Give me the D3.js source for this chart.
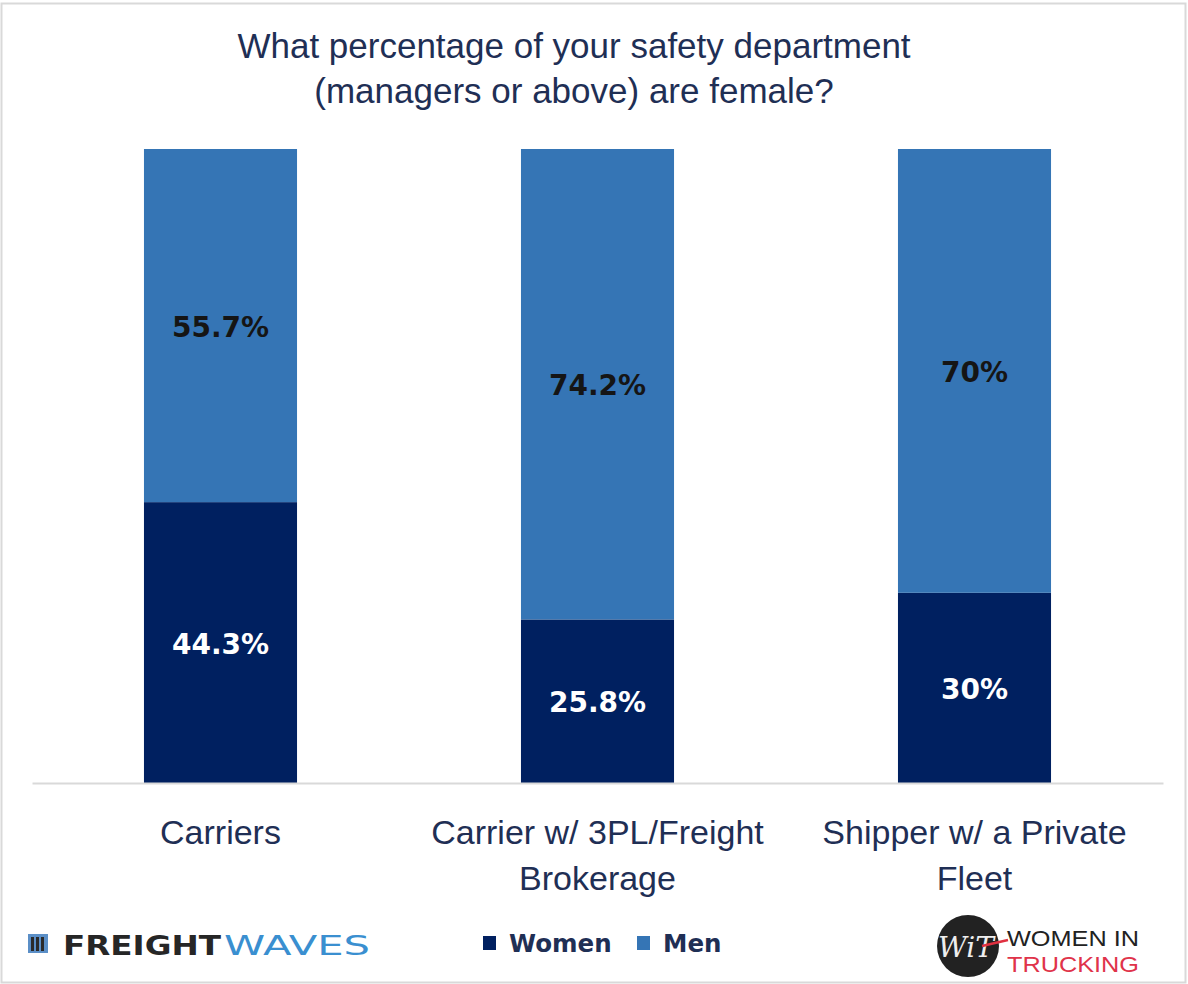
<!DOCTYPE html>
<html><head><meta charset="utf-8">
<script src="https://cdn.jsdelivr.net/npm/d3@7"></script>
<style>body{margin:0;background:#fff;} svg{display:block;}</style>
</head><body>
<svg id="c" width="1188" height="984"></svg>
<script>
const categories = [["Carriers"], ["Carrier w/ 3PL/Freight", "Brokerage"], ["Shipper w/ a Private", "Fleet"]];
const women = [44.3, 25.8, 30];
const men = [55.7, 74.2, 70];
const womenLabels = ["44.3%", "25.8%", "30%"];
const menLabels = ["55.7%", "74.2%", "70%"];
const seriesNames = ["Women", "Men"];
const titleLines = ["What percentage of your safety department", "(managers or above) are female?"];

const svg = d3.select("#c");
const W = 1188, H = 984;
const colWomen = "#002060", colMen = "#3575b5";
const textCol = "#1f2f55";
const baseFont = "'Liberation Sans', sans-serif";

svg.append("rect").attr("x",1.5).attr("y",3.5).attr("width",W-4).attr("height",H-5)
  .attr("fill","#fff").attr("stroke","#d9d9d9").attr("stroke-width",2);

svg.append("g").selectAll("text").data(titleLines).join("text")
  .attr("x", 574).attr("y",(d,i)=>58+i*45).attr("text-anchor","middle")
  .attr("font-family",baseFont).attr("font-size",35).attr("fill",textCol).text(d=>d);

const x = d3.scaleBand().domain(d3.range(categories.length)).range([32,1163]).paddingInner(0.594).paddingOuter(0.297);
const y = d3.scaleLinear().domain([0,100]).range([783,149]);

const data = categories.map((c,i)=>({i, w:women[i], m:men[i]}));
const stack = d3.stack().keys(["w","m"])(data);
const colors = {w:colWomen, m:colMen};

svg.append("g").selectAll("g").data(stack).join("g").attr("fill",s=>colors[s.key])
  .selectAll("rect").data(s=>s).join("rect")
  .attr("x",d=>x(d.data.i)).attr("width",x.bandwidth())
  .attr("y",d=>y(d[1])).attr("height",d=>y(d[0])-y(d[1]));

// axis baseline
const axis = svg.append("g").attr("transform","translate(0,783)")
  .call(d3.axisBottom(x).tickSize(0).tickFormat(""));
axis.select(".domain").attr("stroke","#d9d9d9").attr("stroke-width",2);

// value labels
const labG = svg.append("g").attr("font-family","'DejaVu Sans', sans-serif").attr("font-weight","bold")
  .attr("font-size",28).attr("text-anchor","middle");
stack.forEach(s=>{
  labG.selectAll(null).data(s).join("text")
    .attr("x",d=>x(d.data.i)+x.bandwidth()/2)
    .attr("y",d=>(y(d[0])+y(d[1]))/2+11)
    .attr("fill", s.key==="w" ? "#ffffff" : "#151515")
    .text(d=> s.key==="w" ? womenLabels[d.data.i] : menLabels[d.data.i]);
});

// category labels
const catG = svg.append("g").attr("font-family",baseFont).attr("font-size",34)
  .attr("fill",textCol).attr("text-anchor","middle");
categories.forEach((lines,i)=>{
  lines.forEach((t,j)=>{
    catG.append("text").attr("x",x(i)+x.bandwidth()/2).attr("y",844+j*46).text(t);
  });
});

// legend
const leg = svg.append("g").attr("font-family","'DejaVu Sans', sans-serif").attr("font-weight","bold").attr("font-size",24.5).attr("fill",textCol);
const legX = [483, 637];
seriesNames.forEach((n,i)=>{
  leg.append("rect").attr("x",legX[i]).attr("y",936).attr("width",13).attr("height",14).attr("fill",i===0?colWomen:colMen);
  leg.append("text").attr("x",legX[i]+26).attr("y",952).text(n);
});

// FreightWaves logo
const fw = svg.append("g");
fw.append("rect").attr("x",28).attr("y",934).attr("width",20).attr("height",19).attr("fill","#5b8fc7");
[31,36,41].forEach(v=>fw.append("rect").attr("x",v).attr("y",937).attr("width",3).attr("height",14).attr("fill","#2a2a2a"));
fw.append("text").attr("x",63).attr("y",955).attr("font-family","'DejaVu Sans', sans-serif").attr("font-size",27)
  .attr("font-weight","bold").attr("fill","#262626").attr("textLength",158).attr("lengthAdjust","spacingAndGlyphs").text("FREIGHT");
fw.append("text").attr("x",224).attr("y",955).attr("font-family","'DejaVu Sans', sans-serif").attr("font-size",27)
  .attr("fill","#3a8fd0").attr("textLength",146).attr("lengthAdjust","spacingAndGlyphs").text("WAVES");

// Women In Trucking logo
const wit = svg.append("g");
wit.append("circle").attr("cx",968).attr("cy",946).attr("r",31).attr("fill","#222");
wit.append("text").attr("x",966).attr("y",957).attr("text-anchor","middle").attr("font-family","'DejaVu Serif', serif")
  .attr("font-style","italic").attr("font-size",28).attr("fill","#eee").text("WiT");
wit.append("line").attr("x1",982).attr("y1",946).attr("x2",1008).attr("y2",940).attr("stroke","#e03040").attr("stroke-width",2.5);
wit.append("text").attr("x",1007).attr("y",946).attr("font-family",baseFont).attr("font-size",22).attr("fill","#222")
  .attr("textLength",132).attr("lengthAdjust","spacingAndGlyphs").text("WOMEN IN");
wit.append("text").attr("x",1007).attr("y",972).attr("font-family",baseFont).attr("font-size",22).attr("fill","#e0334a")
  .attr("textLength",132).attr("lengthAdjust","spacingAndGlyphs").text("TRUCKING");
</script>
</body></html>
